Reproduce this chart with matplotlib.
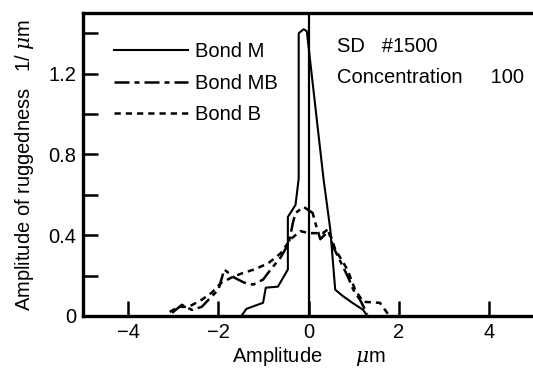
import matplotlib

matplotlib.use("Agg")
import matplotlib.pyplot as plt

# amplitude (um) vs amplitude of ruggedness (1/um)
bond_m_x = [-1.49, -1.38, -1.01, -0.95, -0.68, -0.46, -0.46, -0.29, -0.22, -0.22,
            -0.11, -0.04, 0.33, 0.48, 0.59, 0.75, 0.97, 1.21, 1.30]
bond_m_y = [0.0, 0.035, 0.065, 0.14, 0.145, 0.23, 0.49, 0.55, 0.68, 1.40,
            1.42, 1.41, 0.68, 0.43, 0.13, 0.10, 0.065, 0.03, 0.0]

bond_mb_x = [-3.03, -2.81, -2.59, -2.37, -2.22, -2.00, -1.87, -1.65, -1.43, -1.23,
             -1.01, -0.84, -0.62, -0.44, -0.35, -0.29, -0.11, 0.09, 0.15, 0.26,
             0.44, 0.55, 0.66, 0.88, 0.99, 1.14, 1.30]
bond_mb_y = [0.015, 0.055, 0.03, 0.045, 0.08, 0.13, 0.23, 0.19, 0.165, 0.155,
             0.18, 0.23, 0.29, 0.36, 0.46, 0.51, 0.54, 0.51, 0.46, 0.38,
             0.42, 0.34, 0.29, 0.19, 0.13, 0.08, 0.01]

bond_b_x = [-3.08, -2.88, -2.66, -2.37, -2.15, -1.93, -1.71, -1.49, -1.21, -0.90,
            -0.62, -0.40, -0.18, 0.0, 0.15, 0.31, 0.44, 0.59, 0.86, 1.03,
            1.21, 1.58, 1.76]
bond_b_y = [0.02, 0.045, 0.045, 0.08, 0.115, 0.165, 0.19, 0.21, 0.23, 0.26,
            0.31, 0.38, 0.42, 0.41, 0.41, 0.41, 0.43, 0.33, 0.23, 0.13,
            0.07, 0.065, 0.01]

series_labels = ["Bond M", "Bond MB", "Bond B"]
x_ticks = [-4, -2, 0, 2, 4]
x_tick_labels = ["\u22124", "\u22122", "0", "2", "4"]
y_ticks = [0, 0.4, 0.8, 1.2]
y_tick_labels = ["0", "0.4", "0.8", "1.2"]
y_minor_ticks = [0.2, 0.6, 1.0, 1.4]

FS = 14.5

plt.rcParams.update({
    "font.family": ["Liberation Sans", "DejaVu Sans"],
    "font.size": FS,
    "mathtext.fontset": "dejavuserif",
})

fig = plt.figure(figsize=(5.33, 3.73), dpi=100)
ax = fig.add_axes([0.156, 0.153, 0.846, 0.812])

ax.plot(bond_m_x, bond_m_y, color="black", lw=1.5, ls="-", label=series_labels[0])
ax.plot(bond_mb_x, bond_mb_y, color="black", lw=1.8, ls=(0, (6, 2, 2, 2)),
        label=series_labels[1])
ax.plot(bond_b_x, bond_b_y, color="black", lw=1.8, ls=(0, (2.5, 2)),
        label=series_labels[2])
ax.axvline(0, color="black", lw=1.6)

ax.set_xlim(-5, 5)
ax.set_ylim(0, 1.5)
ax.set_xticks(x_ticks)
ax.set_xticklabels(x_tick_labels)
ax.set_yticks(y_ticks)
ax.set_yticklabels(y_tick_labels)
ax.set_yticks(y_minor_ticks, minor=True)
ax.tick_params(which="both", direction="in", length=11, width=1.8, pad=5,
               top=False, right=False, labelsize=FS)

for side in ("left", "bottom", "top"):
    ax.spines[side].set_linewidth(2.4)
ax.spines["right"].set_visible(False)

ax.set_xlabel("Amplitude      $\\mu$m", labelpad=2)
ax.set_ylabel("Amplitude of ruggedness   1/ $\\mu$m", labelpad=9)

ax.legend(loc="upper left", bbox_to_anchor=(0.051, 0.93), frameon=False,
          handlelength=3.65, handletextpad=0.35, labelspacing=0.62,
          borderaxespad=0, fontsize=FS)

ax.text(0.562, 0.87, "SD   #1500", transform=ax.transAxes, fontsize=FS)
ax.text(0.562, 0.77, "Concentration     100", transform=ax.transAxes, fontsize=FS)

fig.savefig("out.png", dpi=100)
